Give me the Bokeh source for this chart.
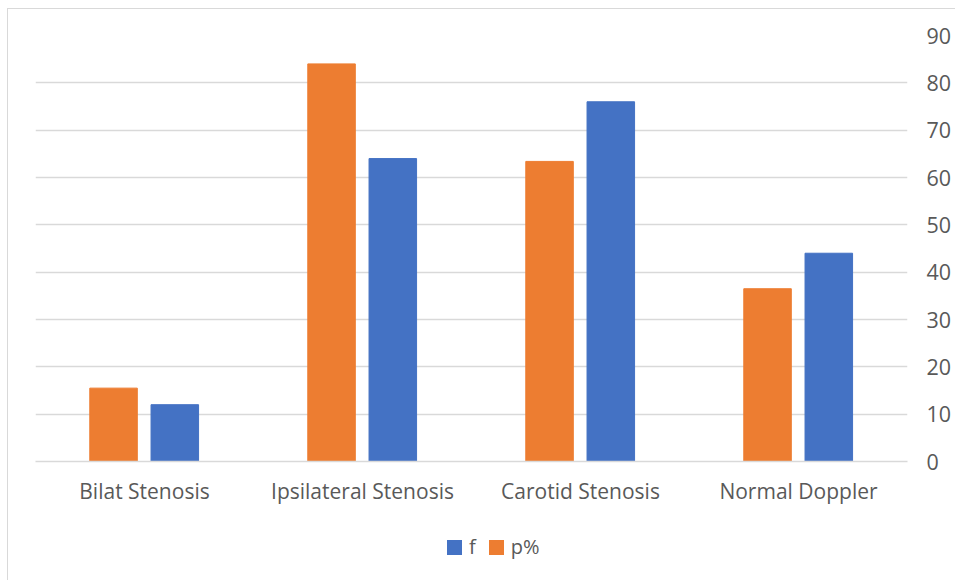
from bokeh.plotting import figure
from bokeh.models import ColumnDataSource, FactorRange, LinearAxis, Range1d, FixedTicker, Div
from bokeh.layouts import column
from bokeh.transform import dodge
from bokeh.embed import file_html
from bokeh.resources import INLINE

categories = ["Bilat Stenosis", "Ipsilateral Stenosis", "Carotid Stenosis", "Normal Doppler"]
f_values = [12, 64, 76, 44]
p_values = [15.5, 84.0, 63.4, 36.5]
y_ticks = [0, 10, 20, 30, 40, 50, 60, 70, 80, 90]
legend_labels = ["f", "p%"]

ORANGE = "#ED7D31"
BLUE = "#4472C4"
GRID = "#D9D9D9"
TEXT = "#595959"
FONT = "Open Sans"

src = ColumnDataSource(dict(cat=categories, f=f_values, p=p_values))

p = figure(
    width=946, height=512,
    x_range=FactorRange(*categories, range_padding=0),
    y_range=Range1d(0, 90),
    output_backend="svg", toolbar_location=None,
    y_axis_location=None,
    min_border_left=27, min_border_right=46, min_border_top=26, min_border_bottom=60,
)
p.outline_line_color = None

rp = p.vbar(x=dodge("cat", -0.142, range=p.x_range), top="p", width=0.218, source=src,
            fill_color=ORANGE, line_color=ORANGE)
rf = p.vbar(x=dodge("cat", 0.139, range=p.x_range), top="f", width=0.218, source=src,
            fill_color=BLUE, line_color=BLUE)

yax = LinearAxis(ticker=FixedTicker(ticks=y_ticks))
yax.axis_line_color = None
yax.major_tick_line_color = None
yax.minor_tick_line_color = None
yax.major_label_text_font = FONT
yax.major_label_text_font_size = "21.5px"
yax.major_label_text_color = TEXT
yax.major_label_standoff = 13
p.add_layout(yax, "right")

p.ygrid.ticker = FixedTicker(ticks=y_ticks)
p.ygrid.grid_line_color = GRID
p.ygrid.grid_line_width = 1.5
p.xgrid.grid_line_color = None

xax = p.xaxis[0]
xax.axis_line_color = GRID
xax.axis_line_width = 1.5
xax.major_tick_line_color = None
xax.minor_tick_line_color = None
xax.major_label_text_font = FONT
xax.major_label_text_font_size = "21px"
xax.major_label_text_color = TEXT
xax.major_label_standoff = 9

sq = "display:inline-block;width:15px;height:15px;margin-right:7px;"
legend_html = (
    f"<div style=\"display:flex;align-items:center;font-family:'{FONT}';font-size:20px;"
    f"color:{TEXT};margin-left:434px;padding-top:8px;line-height:26px;\">"
    f"<span style=\"{sq}background:{BLUE};\"></span><span>{legend_labels[0]}</span>"
    f"<span style=\"{sq}background:{ORANGE};margin-left:13px;\"></span><span>{legend_labels[1]}</span>"
    "</div>"
)
legend_div = Div(text=legend_html, width=946, height=58)

layout = column(p, legend_div, spacing=0)
layout.styles = {"border-left": "1.5px solid #D9D9D9", "border-top": "1.5px solid #D9D9D9",
                 "margin-left": "7px", "margin-top": "8px"}

open("out.html", "w").write(file_html(layout, INLINE))
